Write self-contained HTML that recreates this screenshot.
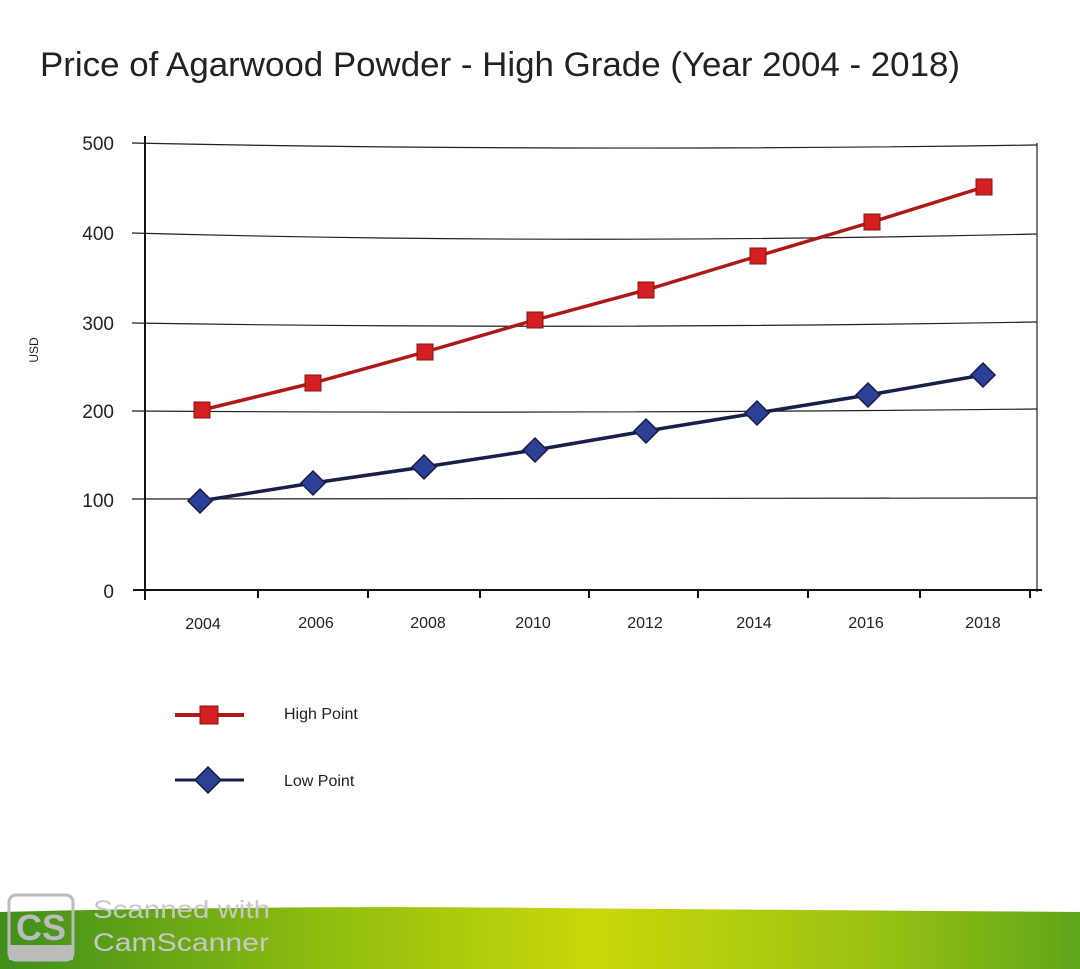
<!DOCTYPE html>
<html><head><meta charset="utf-8"><style>
html,body{margin:0;padding:0;background:#fff;width:1080px;height:969px;overflow:hidden}
svg{display:block}
</style></head><body>
<svg width="1080" height="969" viewBox="0 0 1080 969" xmlns="http://www.w3.org/2000/svg" font-family="Liberation Sans, sans-serif">
<defs>
<linearGradient id="g" x1="0" x2="1" y1="0" y2="0">
<stop offset="0" stop-color="#3f8f1c"/><stop offset="0.3" stop-color="#8fbd10"/><stop offset="0.55" stop-color="#c9d80a"/><stop offset="0.8" stop-color="#9cc313"/><stop offset="1" stop-color="#5fa61a"/>
</linearGradient>
</defs>
<rect width="1080" height="969" fill="#fff"/>
<text x="40" y="76" font-size="34" fill="#222" textLength="920" lengthAdjust="spacingAndGlyphs">Price of Agarwood Powder - High Grade (Year 2004 - 2018)</text>
<g stroke="#222" stroke-width="1.2" fill="none">
<path d="M132 143 Q560 152 1037 145"/>
<path d="M132 233 Q560 245 1037 234"/>
<path d="M132 323 Q560 330 1037 322"/>
<path d="M132 411 Q560 414 1037 409"/>
<path d="M132 499 L1037 498"/>
<path d="M1037 143 L1037 592"/>
</g>
<g stroke="#111" stroke-width="2" fill="none">
<path d="M145 136 L145 600"/>
<path d="M133 590 L1042 590"/>
<path d="M258 590v8M368 590v8M480 590v8M589 590v8M698 590v8M808 590v8M920 590v8M1030 590v8"/>
</g>
<g font-size="19" fill="#222" text-anchor="end">
<text x="114" y="150">500</text><text x="114" y="240">400</text><text x="114" y="330">300</text><text x="114" y="418">200</text><text x="114" y="507">100</text><text x="114" y="598">0</text>
</g>
<text x="0" y="0" font-size="12" fill="#222" transform="translate(38,350) rotate(-90)" text-anchor="middle">USD</text>
<g font-size="16" fill="#222" text-anchor="middle">
<text x="203" y="629">2004</text><text x="316" y="628">2006</text><text x="428" y="628">2008</text><text x="533" y="628">2010</text><text x="645" y="628">2012</text><text x="754" y="628">2014</text><text x="866" y="628">2016</text><text x="983" y="628">2018</text>
</g>
<polyline points="202,410 313,383 425,352 535,320 646,290 758,256 872,222 984,187" fill="none" stroke="#b01818" stroke-width="3.5"/>
<g fill="#d42020" stroke="#8a1010" stroke-width="1">
<rect x="194" y="402" width="16" height="16"/><rect x="305" y="375" width="16" height="16"/><rect x="417" y="344" width="16" height="16"/><rect x="527" y="312" width="16" height="16"/><rect x="638" y="282" width="16" height="16"/><rect x="750" y="248" width="16" height="16"/><rect x="864" y="214" width="16" height="16"/><rect x="976" y="179" width="16" height="16"/>
</g>
<polyline points="200,501 313,483 424,467 535,450 646,431 757,413 868,395 983,375" fill="none" stroke="#1a1f4a" stroke-width="3.5"/>
<g fill="#2d3f96" stroke="#161c45" stroke-width="1.5">
<path d="M200 489l12 12-12 12-12-12z"/><path d="M313 471l12 12-12 12-12-12z"/><path d="M424 455l12 12-12 12-12-12z"/><path d="M535 438l12 12-12 12-12-12z"/><path d="M646 419l12 12-12 12-12-12z"/><path d="M757 401l12 12-12 12-12-12z"/><path d="M868 383l12 12-12 12-12-12z"/><path d="M983 363l12 12-12 12-12-12z"/>
</g>
<line x1="175" y1="715" x2="244" y2="715" stroke="#b01818" stroke-width="4"/>
<rect x="200" y="706" width="18" height="18" fill="#d42020" stroke="#8a1010"/>
<text x="284" y="719" font-size="16" fill="#222">High Point</text>
<line x1="175" y1="780" x2="244" y2="780" stroke="#1a1f4a" stroke-width="3"/>
<path d="M208 767l13 13-13 13-13-13z" fill="#2d3f96" stroke="#161c45" stroke-width="1.5"/>
<text x="284" y="786" font-size="16" fill="#222">Low Point</text>
<path d="M0 912 Q300 905 540 908 Q800 910 1080 912 L1080 969 L0 969 Z" fill="url(#g)"/>
<rect x="9" y="895" width="64" height="65" rx="7" fill="none" stroke="#bbb" stroke-width="3"/>
<rect x="9" y="945" width="64" height="15" fill="#bbb"/>
<text x="41" y="940" font-size="36" fill="#bbb" text-anchor="middle" font-weight="bold">CS</text>
<text x="93" y="918" font-size="25" fill="#c8c8c8" textLength="177" lengthAdjust="spacingAndGlyphs">Scanned with</text>
<text x="93" y="951" font-size="25" fill="#c8c8c8" textLength="176" lengthAdjust="spacingAndGlyphs">CamScanner</text>
</svg>
</body></html>
